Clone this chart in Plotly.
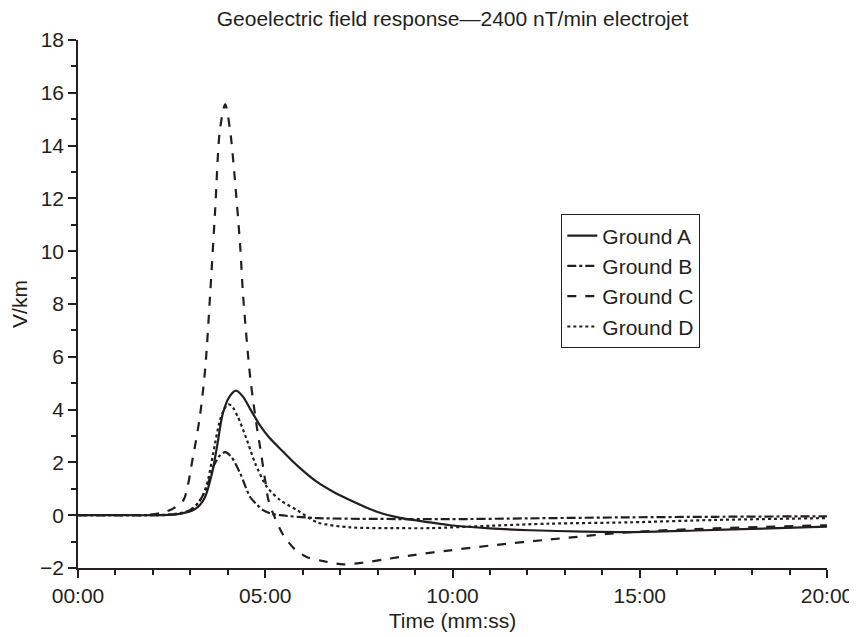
import plotly.graph_objects as go

# ---- data (time in minutes, field in V/km) ----
t_a = [0, 1, 2, 2.5, 2.8, 3.07, 3.25, 3.39, 3.58, 3.71, 3.87, 4.05, 4.22, 4.4, 4.6, 4.86, 5.1, 5.48, 5.9,
       6.39, 6.8, 7.27, 8.0, 8.6, 9.4, 9.94, 11, 12.08, 13.5, 14.75, 16.5, 18, 20]
v_a = [0, 0, 0, 0.02, 0.08, 0.19, 0.38, 0.68, 1.6, 2.58, 3.87, 4.5, 4.72, 4.5, 4.02, 3.4, 2.95, 2.4, 1.82,
       1.25, 0.9, 0.57, 0.12, -0.1, -0.27, -0.38, -0.5, -0.57, -0.62, -0.64, -0.58, -0.52, -0.43]

t_b = [0, 1, 2, 2.5, 2.9, 3.2, 3.44, 3.61, 3.78, 3.93, 4.1, 4.33, 4.6, 4.78, 4.94, 5.13, 5.4, 6.39, 8,
       9.94, 12, 14.75, 17, 20]
v_b = [0, 0, 0, 0.02, 0.12, 0.45, 1.06, 1.82, 2.25, 2.39, 2.2, 1.59, 0.68, 0.4, 0.19, 0.07, 0.0, -0.11, -0.14,
       -0.15, -0.12, -0.08, -0.06, -0.04]

t_c = [0, 1, 1.8, 2.2, 2.54, 2.81, 3.07, 3.26, 3.4, 3.53, 3.66, 3.79, 3.93, 4.06, 4.19, 4.33, 4.41, 4.6,
       4.78, 4.86, 5.0, 5.08, 5.2, 5.48, 5.8, 6.12, 6.55, 7.08, 7.6, 8.15, 9.0, 9.94, 11, 12.6, 14.75, 17, 20]
v_c = [0, 0, 0.01, 0.08, 0.25, 0.55, 2.2, 3.8, 5.6, 8.4, 11.5, 14.6, 15.56, 14.6, 12.7, 10.2, 8.3, 5.2,
       3.3, 2.6, 1.3, 0.6, 0.1, -0.75, -1.3, -1.59, -1.74, -1.86, -1.8, -1.68, -1.5, -1.33, -1.15, -0.92,
       -0.64, -0.5, -0.38]

t_d = [0, 1, 2, 2.5, 2.8, 3.0, 3.2, 3.35, 3.47, 3.61, 3.79, 3.9, 4.0, 4.1, 4.27, 4.51, 4.73, 5.05, 5.4,
       5.85, 6.39, 7.27, 8.5, 9.4, 11, 12.6, 14.75, 17, 20]
v_d = [0, 0, 0, 0.03, 0.1, 0.2, 0.45, 0.8, 1.33, 2.35, 3.6, 4.0, 4.2, 4.15, 3.72, 2.85, 1.97, 1.06, 0.57,
       0.19, -0.27, -0.46, -0.49, -0.49, -0.4, -0.32, -0.27, -0.18, -0.11]

series_names = ["Ground A", "Ground B", "Ground C", "Ground D"]
x_tick_vals = [0, 5, 10, 15, 20]
x_tick_text = ["00:00", "05:00", "10:00", "15:00", "20:00"]
y_tick_vals = [-2, 0, 2, 4, 6, 8, 10, 12, 14, 16, 18]

INK = "#231f20"
FONT = "Liberation Sans, Arial, sans-serif"
FS = 21

fig = go.Figure()
for name, t, v, dash in zip(series_names, [t_a, t_b, t_c, t_d], [v_a, v_b, v_c, v_d],
                            ["solid", "dashdot", "dash", "dot"]):
    fig.add_trace(go.Scatter(x=t, y=v, mode="lines", name=name,
                             line=dict(color=INK, width=2.2, dash=dash, shape="spline", smoothing=0.8)))

axis_common = dict(
    showline=True, linecolor=INK, linewidth=1.5, mirror=False,
    showgrid=False, zeroline=False, automargin=False,
    ticks="outside", ticklen=8, tickwidth=1.5, tickcolor=INK,
    tickfont=dict(family=FONT, size=FS, color=INK),
)

# page body has an 8px margin, so the figure is sized/margined to land on the reference layout
fig.update_layout(
    width=849, height=629,
    margin=dict(l=70, r=30, t=32, b=69),
    paper_bgcolor="white", plot_bgcolor="white",
    font=dict(family=FONT, color=INK),
    title=dict(text="Geoelectric field response\u20142400 nT/min electrojet",
               xref="paper", x=0.5, xanchor="center", y=0.983, yanchor="middle",
               font=dict(family=FONT, size=FS, color=INK)),
    xaxis=dict(range=[0, 20], tickvals=x_tick_vals, ticktext=x_tick_text,
               minor=dict(dtick=1, ticklen=5, tickwidth=1.5, tickcolor=INK, ticks="outside"),
               title=dict(text="Time (mm:ss)", font=dict(family=FONT, size=FS, color=INK), standoff=7),
               **axis_common),
    yaxis=dict(range=[-2, 18], tickvals=y_tick_vals,
               minor=dict(dtick=1, ticklen=5, tickwidth=1.5, tickcolor=INK, ticks="outside"),
               title=dict(text="V/km", font=dict(family=FONT, size=FS, color=INK), standoff=16),
               **axis_common),
    legend=dict(x=0.645, y=0.67, xanchor="left", yanchor="top",
                bordercolor=INK, borderwidth=1.2, bgcolor="white",
                font=dict(family=FONT, size=FS, color=INK),
                tracegroupgap=0),
    showlegend=True,
)

fig.write_html("out.html")
